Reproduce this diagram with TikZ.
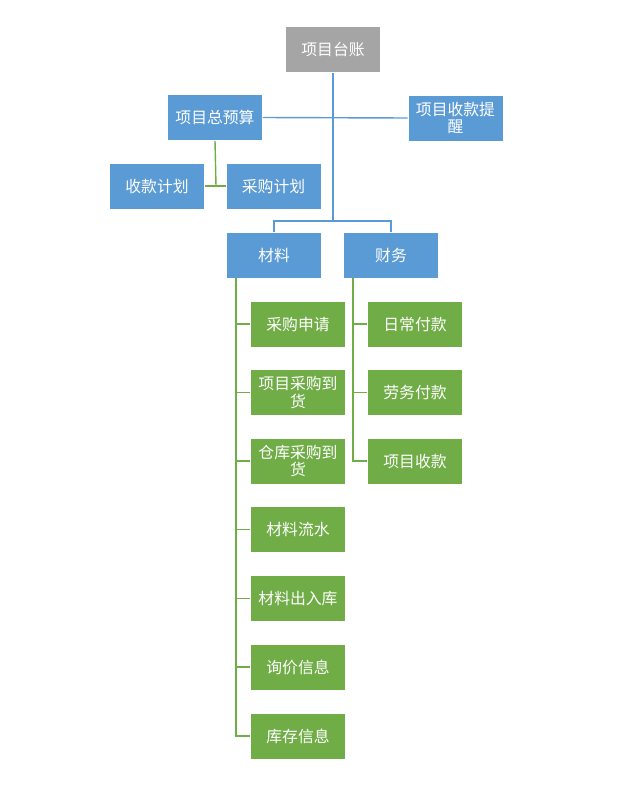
\documentclass[tikz,border=0pt]{standalone}
\usepackage{fontspec}
\newfontfamily\cjk{Noto Sans CJK SC}
\usetikzlibrary{positioning}
\definecolor{boxblue}{HTML}{5B9BD5}
\definecolor{boxgreen}{HTML}{70AD47}
\definecolor{boxgray}{HTML}{A5A5A5}
\tikzset{
  box/.style={draw=white, line width=0.6pt, text=white, minimum width=95*0.03cm,
    minimum height=46*0.03cm, inner sep=1pt, align=center,
    font=\cjk\fontsize{13.5}{15}\selectfont},
  bbox/.style={box, fill=boxblue},
  gbox/.style={box, fill=boxgreen},
  bline/.style={draw=boxblue, line width=1.2pt},
  gline/.style={draw=boxgreen, line width=1.2pt}
}
\begin{document}
\begin{tikzpicture}[x=0.03cm,y=-0.03cm]
\useasboundingbox (0,0) rectangle (640,809);
% top level
\node [box, fill=boxgray] (root) at (333,49.5) {项目台账};
\node [bbox] (budget) at (215,117.5) {项目总预算};
\node [bbox, text width=90*0.03cm] (remind) at (455.5,118) {项目收款提\\醒};
\node [bbox] (recv) at (157,186) {收款计划};
\node [bbox] (buy) at (273.5,186) {采购计划};
\node [bbox] (mat) at (274,255) {材料};
\node [bbox] (fin) at (391,255) {财务};
% materials
\node [gbox] (m1) at (298,324) {采购申请};
\node [gbox, text width=88*0.03cm] (m2) at (298,392.5) {项目采购到\\货};
\node [gbox, text width=88*0.03cm] (m3) at (298,461) {仓库采购到\\货};
\node [gbox] (m4) at (298,529.5) {材料流水};
\node [gbox] (m5) at (298,598.5) {材料出入库};
\node [gbox] (m6) at (298,667) {询价信息};
\node [gbox] (m7) at (298,736) {库存信息};
% finance
\node [gbox] (f1) at (415,324) {日常付款};
\node [gbox] (f2) at (415,392.5) {劳务付款};
\node [gbox] (f3) at (415,461) {项目收款};
% connectors
\coordinate (hub) at (333,221);
\path [bline] (root.south) -- (hub);
\path [bline] (budget.east) -- (remind.west);
\path [bline] (mat.north) |- (hub) -| (fin.north);
\coordinate (gj) at (216,186);
\path [gline] (budget.south) -- (gj);
\path [gline] (recv.east) -- (buy.west);
\path [gline] (mat.south -| 236,0) |- (m7.west);
\foreach \m in {m1,m2,m3,m4,m5,m6}
  \path [gline] (\m.west) -- (\m.west -| 236,0);
\path [gline] (fin.south -| 353,0) |- (f3.west);
\foreach \f in {f1,f2}
  \path [gline] (\f.west) -- (\f.west -| 353,0);
\end{tikzpicture}
\end{document}
